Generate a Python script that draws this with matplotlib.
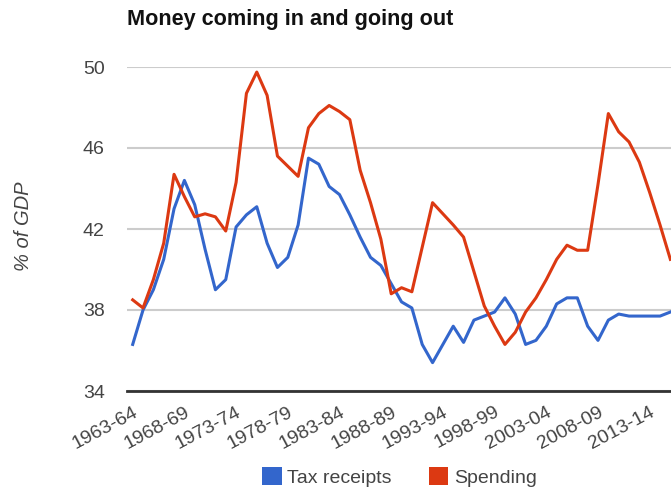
import numpy as np
import matplotlib
matplotlib.use('Agg')
from matplotlib import pyplot as plt
from matplotlib.patches import Patch
from matplotlib.transforms import ScaledTranslation

# fiscal years 1963-64 .. 2015-16
years = ['%d-%02d' % (y, (y + 1) % 100) for y in range(1963, 2016)]

tax = [36.3, 38.0, 39.0, 40.5, 43.0, 44.4, 43.2, 41.0, 39.0, 39.5,
       42.1, 42.7, 43.1, 41.3, 40.1, 40.6, 42.2, 45.5, 45.2, 44.1,
       43.7, 42.7, 41.6, 40.6, 40.2, 39.3, 38.4, 38.1, 36.3, 35.4,
       36.3, 37.2, 36.4, 37.5, 37.7, 37.9, 38.6, 37.8, 36.3, 36.5,
       37.2, 38.3, 38.6, 38.6, 37.2, 36.5, 37.5, 37.8, 37.7, 37.7,
       37.7, 37.7, 37.9]

spending = [38.5, 38.1, 39.5, 41.3, 44.7, 43.6, 42.6, 42.75, 42.6, 41.9,
            44.3, 48.7, 49.75, 48.6, 45.6, 45.1, 44.6, 47.0, 47.7, 48.1,
            47.8, 47.4, 44.9, 43.3, 41.5, 38.8, 39.1, 38.9, 41.1, 43.3,
            42.75, 42.2, 41.6, 39.9, 38.2, 37.2, 36.3, 36.9, 37.9, 38.6,
            39.5, 40.5, 41.2, 40.95, 40.95, 44.2, 47.7, 46.8, 46.3, 45.3,
            43.8, 42.2, 40.5]

tick_labels = ['1963-64', '1968-69', '1973-74', '1978-79', '1983-84', '1988-89',
               '1993-94', '1998-99', '2003-04', '2008-09', '2013-14']
y_ticks = [34, 38, 42, 46, 50]

blue = '#3366CC'
red = '#DC3912'
grey = '#444444'

plt.rcParams['font.family'] = ['Liberation Sans', 'DejaVu Sans']

fig = plt.figure(figsize=(6.71, 4.91), dpi=100)
ax = fig.add_axes([127 / 671, 1 - 391 / 491, 1 - 127 / 671, (391 - 67) / 491])

x = np.arange(len(years))
ax.plot(x, tax, color=blue, linewidth=2.2, zorder=3)
ax.plot(x, spending, color=red, linewidth=2.2, zorder=3)

ax.set_xlim(-0.55, 52.06)
ax.set_ylim(34, 50)
ax.set_yticks(y_ticks)
ax.set_yticklabels([str(v) for v in y_ticks], fontsize=14, color=grey)
ax.yaxis.grid(True, color='#cccccc', linewidth=1.5)
ax.axhline(34, color='#333333', linewidth=2, zorder=2, clip_on=False)

ax.set_xticks([years.index(t) for t in tick_labels])
ax.set_xticklabels(tick_labels, rotation=28, ha='right', rotation_mode='anchor',
                   fontsize=14, color=grey)
shift = ScaledTranslation(5 / 100, 0, fig.dpi_scale_trans)
for lab in ax.get_xticklabels():
    lab.set_transform(lab.get_transform() + shift)
ax.tick_params(axis='both', length=0)
ax.tick_params(axis='y', pad=16)
ax.tick_params(axis='x', pad=9)
for s in ax.spines.values():
    s.set_visible(False)

ax.set_ylabel('% of GDP', fontsize=14.5, color=grey, style='italic')
ax.yaxis.set_label_coords(-0.172, 0.51)

fig.text(127 / 671, 1 - 20 / 491, 'Money coming in and going out', fontsize=15.6,
         fontweight='bold', color='#111111', ha='left', va='center')

handles = [Patch(facecolor=blue, label='Tax receipts'), Patch(facecolor=red, label='Spending')]
fig.legend(handles=handles, loc='center', bbox_to_anchor=(399.5 / 671, 1 - 477 / 491), ncol=2,
           frameon=False, fontsize=14, handlelength=1.0, handleheight=1.0,
           handletextpad=0.3, columnspacing=1.9, labelcolor=grey)

fig.savefig('out.png', dpi=100)
